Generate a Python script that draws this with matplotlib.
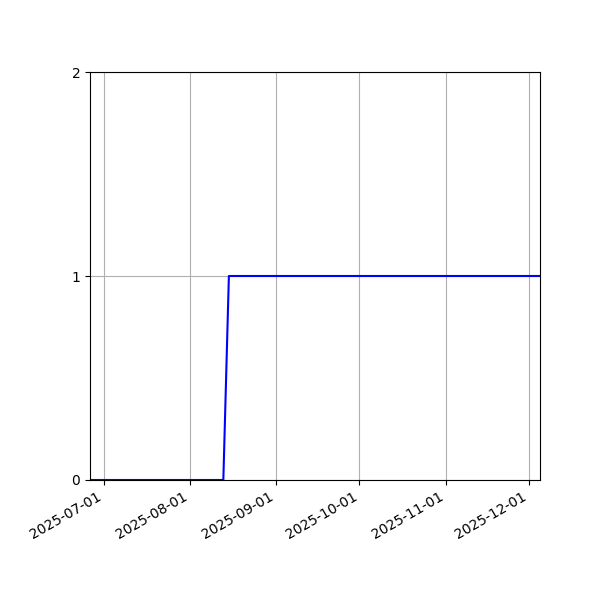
import matplotlib
matplotlib.use("Agg")
import matplotlib.pyplot as plt
import matplotlib.dates as mdates
import numpy as np

dates = np.array(["2025-06-26", "2025-08-13", "2025-08-15", "2025-12-05"], dtype="datetime64[D]")
values = [0, 0, 1, 1]
yticks = [0, 1, 2]

fig, ax = plt.subplots(figsize=(6, 6), dpi=100)
ax.plot(dates, values, color="blue", linewidth=1.5)
ax.set_xlim(dates[0], dates[-1])
ax.set_ylim(0, 2)
ax.set_yticks(yticks)
ax.xaxis.set_major_locator(mdates.MonthLocator())
ax.xaxis.set_major_formatter(mdates.DateFormatter("%Y-%m-%d"))
ax.grid(True)
fig.autofmt_xdate()
fig.subplots_adjust(left=0.15, right=0.9, top=0.88, bottom=0.2)
fig.savefig("out.png", dpi=100)
